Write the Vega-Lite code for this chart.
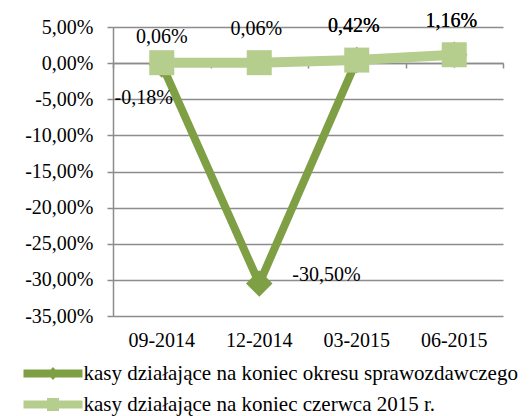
{
  "$schema": "https://vega.github.io/schema/vega-lite/v6.json",
  "width": 390,
  "height": 289,
  "autosize": "none",
  "padding": {"left": 113, "top": 27, "right": 26, "bottom": 100},
  "background": "#ffffff",
  "config": {
    "locale": {"number": {"decimal": ",", "thousands": " ", "grouping": [3], "currency": ["", " zł"], "minus": "-", "percent": "%"}},
    "view": {"stroke": null},
    "font": "Times New Roman, Liberation Serif, serif",
    "axis": {"labelFont": "Times New Roman, Liberation Serif, serif", "labelFontSize": 20, "labelColor": "#000000", "title": null},
    "legend": {"labelFont": "Times New Roman, Liberation Serif, serif", "labelFontSize": 21, "labelColor": "#000000"},
    "text": {"font": "Times New Roman, Liberation Serif, serif"}
  },
  "data": {
    "values": [
      {"period": "09-2014", "series": "kasy działające na koniec okresu sprawozdawczego", "value": -0.0018},
      {"period": "12-2014", "series": "kasy działające na koniec okresu sprawozdawczego", "value": -0.305},
      {"period": "03-2015", "series": "kasy działające na koniec okresu sprawozdawczego", "value": 0.0042},
      {"period": "06-2015", "series": "kasy działające na koniec okresu sprawozdawczego", "value": 0.0116},
      {"period": "09-2014", "series": "kasy działające na koniec czerwca 2015 r.", "value": 0.0006},
      {"period": "12-2014", "series": "kasy działające na koniec czerwca 2015 r.", "value": 0.0006},
      {"period": "03-2015", "series": "kasy działające na koniec czerwca 2015 r.", "value": 0.0042},
      {"period": "06-2015", "series": "kasy działające na koniec czerwca 2015 r.", "value": 0.0116}
    ]
  },
  "encoding": {
    "y": {
      "field": "value",
      "type": "quantitative",
      "scale": {"domain": [-0.35, 0.05], "nice": false, "zero": false},
      "axis": {
        "format": ".2%",
        "values": [0.05, 0, -0.05, -0.1, -0.15, -0.2, -0.25, -0.3, -0.35],
        "grid": true,
        "gridColor": "#8c8c8c",
        "gridWidth": 1.5,
        "domainColor": "#8c8c8c",
        "domainWidth": 1.5,
        "tickColor": "#8c8c8c",
        "tickWidth": 1.5,
        "tickSize": 6,
        "labelPadding": 14,
        "title": null
      }
    }
  },
  "resolve": {"axis": {"x": "independent"}},
  "layer": [
    {
      "transform": [{"filter": "datum.series === 'kasy działające na koniec okresu sprawozdawczego'"}],
      "mark": {"type": "line", "strokeWidth": 8},
      "encoding": {
        "x": {
          "field": "period", "type": "ordinal",
          "sort": ["09-2014", "12-2014", "03-2015", "06-2015"],
          "scale": {"type": "band", "paddingInner": 0, "paddingOuter": 0},
          "axis": {"orient": "bottom", "domain": false, "ticks": false, "tickSize": 0, "labelPadding": 14, "labelAngle": 0, "grid": false, "title": null}
        },
        "color": {
          "field": "series", "type": "nominal",
          "scale": {"domain": ["kasy działające na koniec okresu sprawozdawczego", "kasy działające na koniec czerwca 2015 r."], "range": ["#7f9f45", "#b5ce8e"]},
          "legend": {
            "orient": "none",
            "legendX": -70.5,
            "legendY": 336,
            "title": null,
            "direction": "vertical",
            "symbolType": "M-2.95,-0.4L2.95,-0.4L2.95,0.4L-2.95,0.4Z",
            "symbolSize": 400,
            "symbolStrokeWidth": 0,
            "labelLimit": 600,
            "labelOffset": 20,
            "rowPadding": 9,
            "labelFont": "Times New Roman, Liberation Serif, serif",
            "labelFontSize": 21,
            "encode": {
              "symbols": {
                "update": {
                  "shape": {"signal": "datum.index === 0 ? 'M-2.95,-0.4L2.95,-0.4L2.95,0.4L-2.95,0.4Z M0,-0.65L0.6,0L0,0.65L-0.6,0Z' : 'M-2.95,-0.4L2.95,-0.4L2.95,0.4L-2.95,0.4Z M-0.6,-0.65L0.6,-0.65L0.6,0.65L-0.6,0.65Z'"},
                  "fill": {"scale": "color", "field": "value"},
                  "strokeWidth": {"value": 0},
                  "opacity": {"value": 1}
                }
              }
            }
          }
        }
      }
    },
    {
      "transform": [{"filter": "datum.series === 'kasy działające na koniec okresu sprawozdawczego'"}],
      "mark": {"type": "point", "shape": "diamond", "filled": true, "size": 700, "opacity": 1, "color": "#7f9f45"},
      "encoding": {
        "x": {"field": "period", "type": "ordinal", "sort": ["09-2014", "12-2014", "03-2015", "06-2015"], "axis": null}
      }
    },
    {
      "transform": [{"filter": "datum.series === 'kasy działające na koniec czerwca 2015 r.'"}],
      "mark": {"type": "line", "strokeWidth": 10, "color": "#b5ce8e"},
      "encoding": {
        "x": {
          "field": "period", "type": "ordinal",
          "sort": ["09-2014", "12-2014", "03-2015", "06-2015"],
          "axis": {"orient": "bottom", "offset": -253, "labels": false, "domain": true, "domainColor": "#8c8c8c", "domainWidth": 1.5, "ticks": true, "tickBand": "extent", "tickSize": 5, "tickColor": "#8c8c8c", "tickWidth": 1.5, "grid": false, "title": null}
        }
      }
    },
    {
      "transform": [{"filter": "datum.series === 'kasy działające na koniec czerwca 2015 r.'"}],
      "mark": {"type": "point", "shape": "square", "filled": true, "size": 625, "opacity": 1, "color": "#b5ce8e"},
      "encoding": {
        "x": {"field": "period", "type": "ordinal", "sort": ["09-2014", "12-2014", "03-2015", "06-2015"], "axis": null}
      }
    },
    {
      "transform": [{"filter": "datum.series === 'kasy działające na koniec czerwca 2015 r.' && datum.period === '09-2014'"}],
      "mark": {"type": "text", "fontSize": 20, "font": "Times New Roman, Liberation Serif, serif", "color": "#000000", "baseline": "middle", "dy": -26},
      "encoding": {
        "x": {"field": "period", "type": "ordinal", "sort": ["09-2014", "12-2014", "03-2015", "06-2015"], "axis": null},
        "text": {"field": "value", "type": "quantitative", "format": ".2%"}
      }
    },
    {
      "transform": [{"filter": "datum.period !== '09-2014' && (datum.series === 'kasy działające na koniec czerwca 2015 r.' || datum.value > 0)"}],
      "mark": {"type": "text", "fontSize": 20, "font": "Times New Roman, Liberation Serif, serif", "color": "#000000", "baseline": "middle", "dy": -34, "dx": -3},
      "encoding": {
        "x": {"field": "period", "type": "ordinal", "sort": ["09-2014", "12-2014", "03-2015", "06-2015"], "axis": null},
        "text": {"field": "value", "type": "quantitative", "format": ".2%"}
      }
    },
    {
      "transform": [{"filter": "datum.series === 'kasy działające na koniec okresu sprawozdawczego' && datum.period === '09-2014'"}],
      "mark": {"type": "text", "fontSize": 20, "font": "Times New Roman, Liberation Serif, serif", "color": "#000000", "baseline": "middle", "dx": -18, "dy": 34},
      "encoding": {
        "x": {"field": "period", "type": "ordinal", "sort": ["09-2014", "12-2014", "03-2015", "06-2015"], "axis": null},
        "text": {"field": "value", "type": "quantitative", "format": ".2%"}
      }
    },
    {
      "transform": [{"filter": "datum.series === 'kasy działające na koniec okresu sprawozdawczego' && datum.period === '12-2014'"}],
      "mark": {"type": "text", "fontSize": 20, "font": "Times New Roman, Liberation Serif, serif", "color": "#000000", "baseline": "middle", "align": "left", "dx": 33, "dy": -8},
      "encoding": {
        "x": {"field": "period", "type": "ordinal", "sort": ["09-2014", "12-2014", "03-2015", "06-2015"], "axis": null},
        "text": {"field": "value", "type": "quantitative", "format": ".2%"}
      }
    }
  ]
}
